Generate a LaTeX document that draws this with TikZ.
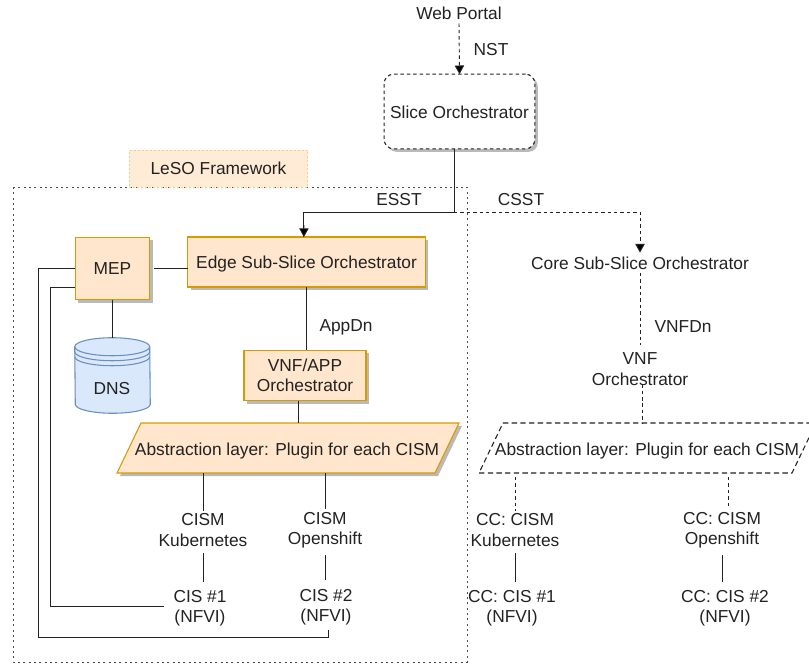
\documentclass[tikz,border=0pt]{standalone}
\usepackage{fontspec}
\setmainfont{Liberation Sans}
\usetikzlibrary{arrows.meta,calc}
\definecolor{orF}{HTML}{FFE6CC}
\definecolor{orD}{HTML}{D79B00}
\definecolor{blF}{HTML}{DAE8FC}
\definecolor{blD}{HTML}{6C8EBF}
\definecolor{ink}{HTML}{222222}
\tikzset{
  txt/.style={inner sep=0pt,outer sep=0pt,align=center,text=ink,font=\fontsize{13}{15.3}\selectfont},
  shad/.style={preaction={fill=black!27,transform canvas={xshift=2.25pt,yshift=-2.25pt}}},
  obox/.style={txt,draw=orD,fill=orF,line width=0.8pt,shad,rectangle},
  link/.style={draw=ink,line width=0.7pt},
  dlink/.style={link,dash pattern=on 2.6pt off 2.2pt},
  tip/.style={-{Triangle[length=6.5pt,width=7pt,fill=black]}},
}
\begin{document}
\begin{tikzpicture}[x=0.75pt,y=-0.75pt]
\useasboundingbox (0,0) rectangle (809,663);
% frame and title
\draw[black!70,line width=0.6pt,dash pattern=on 1.5pt off 2.5pt] (13,187) rectangle (467,662);
\node[txt,draw=orD!45,fill=orF!80,dash pattern=on 1.5pt off 1.5pt,line width=0.6pt,minimum width=134pt,minimum height=27.75pt] (leso) at (218.5,168.5) {LeSO Framework};
% top
\node[txt] (web) at (459,13) {Web Portal};
\node[txt,draw=ink,fill=white,dash pattern=on 2.6pt off 2.2pt,line width=0.8pt,rounded corners=7pt,minimum width=113pt,minimum height=56pt,shad,text height=11pt] (slice) at (459.5,111.5) {Slice Orchestrator};
\node[txt] (nst) at (491,50) {NST};
\node[txt] (esst) at (399,200) {ESST};
\node[txt] (csst) at (521,200) {CSST};
% left boxes
\node[obox,minimum width=56pt,minimum height=47pt] (mep) at (112.5,268.5) {MEP};
\node[obox,minimum width=178pt,minimum height=37.5pt,text depth=0pt,text height=10pt] (esso) at (306.5,262) {Edge Sub-Slice Orchestrator};
\node[obox,minimum width=91.5pt,minimum height=38pt,text depth=0pt] (vnfapp) at (305,375.5) {VNF/APP\\Orchestrator};
\node[txt] (appdn) at (346,327) {AppDn};
% DNS cylinder
\node[inner sep=0pt,minimum width=56.25pt,minimum height=56.25pt] (dns) at (112.5,375.5) {};
\draw[blD,fill=blF,line width=0.8pt] ($(dns.north west)+(0,9)$) arc[start angle=180,end angle=360,x radius=37.5,y radius=9] -- ($(dns.south east)+(0,-9)$) arc[start angle=0,end angle=180,x radius=37.5,y radius=9] -- cycle;
\draw[blD,line width=0.8pt] ($(dns.north west)+(0,9)$) arc[start angle=180,end angle=0,x radius=37.5,y radius=9];
\draw[blD,line width=0.8pt] ($(dns.north west)+(0,14)$) arc[start angle=180,end angle=0,x radius=37.5,y radius=9];
\draw[blD,line width=0.8pt] ($(dns.north west)+(0,19)$) arc[start angle=180,end angle=0,x radius=37.5,y radius=9];
\node[txt] (dnst) at (112,389) {DNS};
% left abstraction layer
\node[txt,minimum width=256.5pt,minimum height=37.5pt] (absl) at (288,448) {};
\fill[black!27] ($(absl.north west)+(27,3)$) -- ($(absl.north east)+(3,3)$) -- ($(absl.south east)+(-21,3)$) -- ($(absl.south west)+(3,3)$) -- cycle;
\draw[orD,fill=orF,line width=0.8pt] ($(absl.north west)+(24,0)$) -- (absl.north east) -- ($(absl.south east)+(-24,0)$) -- (absl.south west) -- cycle;
\node[txt,text depth=0pt] (abslt) at (287,449) {Abstraction layer: Plugin for each CISM};
\node[txt] (kube) at (203,530) {CISM\\Kubernetes};
\node[txt] (open) at (325,530) {CISM\\Openshift};
\node[txt] (cisa) at (200,608) {CIS \#1\\(NFVI)};
\node[txt] (cisb) at (326,607) {CIS \#2\\(NFVI)};
% right side
\node[txt] (core) at (640,263) {Core Sub-Slice Orchestrator};
\node[txt] (vnfdn) at (683,327) {VNFDn};
\node[txt] (vnfo) at (640,369) {VNF\\Orchestrator};
\node[txt,minimum width=252.75pt,minimum height=37.5pt] (absr) at (647.5,448) {};
\draw[ink,line width=0.8pt,dash pattern=on 4pt off 2.5pt] ($(absr.north west)+(24,0)$) -- (absr.north east) -- ($(absr.south east)+(-24,0)$) -- (absr.south west) -- cycle;
\node[txt,text depth=0pt] (absrt) at (647,449) {Abstraction layer: Plugin for each CISM};
\node[txt] (ckube) at (515,530) {CC: CISM\\Kubernetes};
\node[txt] (copen) at (722,530) {CC: CISM\\Openshift};
\node[txt] (ccisa) at (512,608) {CC: CIS \#1\\(NFVI)};
\node[txt] (ccisb) at (725,608) {CC: CIS \#2\\(NFVI)};
% junctions
\coordinate (jn) at (454,212);
\coordinate (ja) at (38,637);
\coordinate (jb) at (50,606);
\coordinate (jc) at (50,287);
% connectors
\draw[dlink,tip] ([yshift=-3pt]web.south) -- (slice.north);
\draw[link] (jn |- slice.south) -- (jn) -| ([xshift=-2pt]esso.north);
\draw[link,tip] (304,225) -- ([xshift=-2pt]esso.north);
\draw[dlink,tip] (jn) -| ([yshift=3pt]core.north);
\draw[link] (esso.south) -- (vnfapp.north -| esso.south);
\draw[link] ([xshift=3pt]mep.east) -- (mep.east -| esso.west);
\draw[link] (mep.south) -- (dns.north);
\draw[link] (mep.west) -| (ja) -| ([xshift=1.5pt,yshift=-4pt]cisb.south);
\draw[link] (jc -| mep.west) -- (jc) -- (jb) -- ([xshift=-7.5pt]jb -| cisa.west);
\draw[link] (298,0 |- vnfapp.south) -- (298,0 |- absl.north);
\draw[link] (kube |- absl.south) -- ([yshift=2.25pt]kube.north);
\draw[link] (open |- absl.south) -- ([yshift=2.25pt]open.north);
\draw[link] ([yshift=-5.25pt]kube.south) -- ([yshift=6pt]kube.south |- cisa.north);
\draw[link] ([yshift=-5.25pt]open.south) -- ([yshift=6.5pt]open.south |- cisb.north);
\draw[dlink] ([yshift=-2.5pt]core.south) -- ([yshift=5.75pt]vnfo.north);
\draw[dlink] ([xshift=2pt,yshift=0.75pt]vnfo.south) -- ([xshift=2pt]vnfo.south |- absr.north);
\draw[dlink] ([yshift=-3pt]ckube |- absr.south) -- ([yshift=2.25pt]ckube.north);
\draw[dlink] ([xshift=4.5pt,yshift=-3pt]copen |- absr.south) -- ([xshift=4.5pt,yshift=2.25pt]copen.north);
\draw[link] ([yshift=-5.25pt]ckube.south) -- ([yshift=6pt]ckube.south |- ccisa.north);
\draw[link] ([yshift=-5.25pt]copen.south) -- ([yshift=6pt]copen.south |- ccisb.north);
\end{tikzpicture}
\end{document}
